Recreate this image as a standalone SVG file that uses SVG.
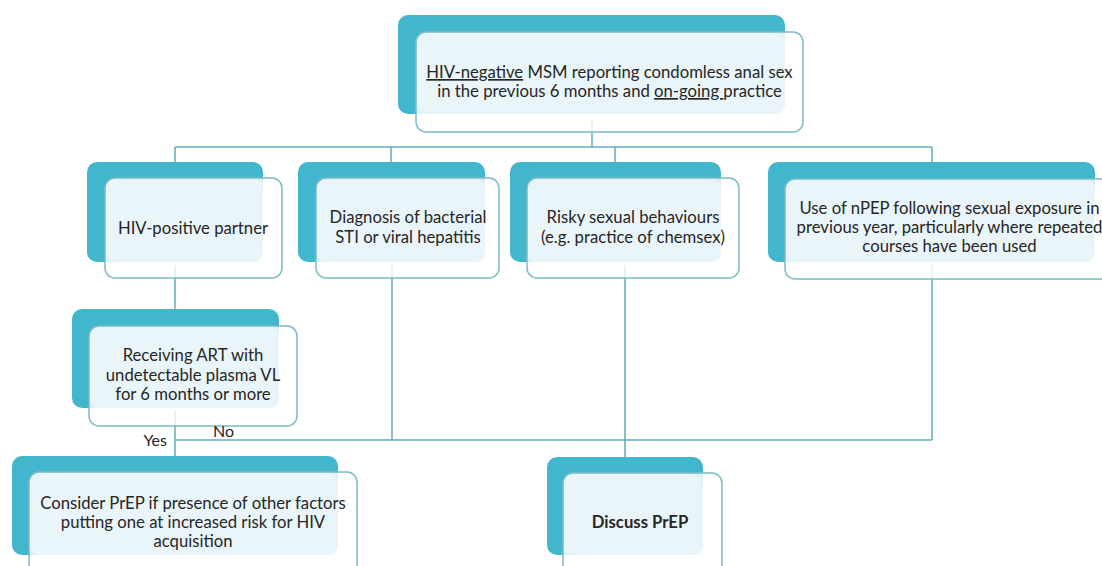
<svg xmlns="http://www.w3.org/2000/svg" width="1102" height="566" viewBox="0 0 1102 566">
<style>
.back{fill:#41b6cd;}
.front{fill:#ffffff;fill-opacity:0.8;stroke:#7cbac6;stroke-width:1.5;}
.light{fill:#eaf5f9;}
.t{font-family:Lato,"Liberation Sans",sans-serif;font-size:16.7px;fill:#262626;text-anchor:middle;}
.b{font-weight:bold;}
.c{stroke:#63adb9;stroke-width:1.5;fill:none;}
.lbl{font-family:Lato,"Liberation Sans",sans-serif;font-size:16px;fill:#262626;}
</style>
<rect width="1102" height="566" fill="#ffffff"/>
<g id="connectors">
<path class="c" d="M592,120 V147 M175,147 H932 M175,147 V170 M391,147 V170 M615,147 V170 M932,147 V170"/>
<path class="c" d="M175,265 V320 M175,410 V462 M175,440 H932 M392,265 V440 M625,265 V465 M932,265 V440"/>
</g>
<g id="n-top">
<rect class="back" x="398" y="15" width="387" height="99" rx="10"/>
<rect class="front" x="416" y="32" width="387" height="100" rx="10"/>
<rect class="light" x="417" y="33" width="368" height="81" rx="9"/>
<text class="t" x="609.5" y="78"><tspan text-decoration="underline">HIV-negative</tspan> MSM reporting condomless anal sex</text>
<text class="t" x="609.5" y="97">in the previous 6 months and <tspan text-decoration="underline">on-going </tspan>practice</text>
</g>
<g id="n-partner">
<rect class="back" x="87" y="162" width="176" height="100" rx="10"/>
<rect class="front" x="105" y="178" width="177" height="100" rx="10"/>
<rect class="light" x="106" y="179" width="157" height="83" rx="9"/>
<text class="t" x="193" y="234">HIV-positive partner</text>
</g>
<g id="n-sti">
<rect class="back" x="298" y="162" width="187" height="100" rx="10"/>
<rect class="front" x="316" y="178" width="183" height="100" rx="10"/>
<rect class="light" x="317" y="179" width="168" height="83" rx="9"/>
<text class="t" x="408" y="223">Diagnosis of bacterial</text>
<text class="t" x="408" y="243">STI or viral hepatitis</text>
</g>
<g id="n-risky">
<rect class="back" x="510" y="162" width="211" height="100" rx="10"/>
<rect class="front" x="527" y="178" width="212" height="100" rx="10"/>
<rect class="light" x="528" y="179" width="193" height="83" rx="9"/>
<text class="t" x="633" y="223">Risky sexual behaviours</text>
<text class="t" x="633" y="243">(e.g. practice of chemsex)</text>
</g>
<g id="n-npep">
<rect class="back" x="768" y="162" width="327" height="100" rx="10"/>
<rect class="front" x="785" y="179" width="330" height="100" rx="10"/>
<rect class="light" x="786" y="180" width="309" height="82" rx="9"/>
<text class="t" x="949.5" y="214">Use of nPEP following sexual exposure in</text>
<text class="t" x="949.5" y="233">previous year, particularly where repeated</text>
<text class="t" x="949.5" y="252">courses have been used</text>
</g>
<g id="n-art">
<rect class="back" x="72" y="309" width="207" height="99" rx="10"/>
<rect class="front" x="89" y="326" width="208" height="100" rx="10"/>
<rect class="light" x="90" y="327" width="189" height="81" rx="9"/>
<text class="t" x="193" y="361">Receiving ART with</text>
<text class="t" x="193" y="381">undetectable plasma VL</text>
<text class="t" x="193" y="400">for 6 months or more</text>
</g>
<g id="n-consider">
<rect class="back" x="12" y="456" width="326" height="99" rx="10"/>
<rect class="front" x="29" y="472" width="328" height="110" rx="10"/>
<rect class="light" x="30" y="473" width="308" height="82" rx="9"/>
<text class="t" x="193" y="509">Consider PrEP if presence of other factors</text>
<text class="t" x="193" y="528">putting one at increased risk for HIV</text>
<text class="t" x="193" y="547">acquisition</text>
</g>
<g id="n-discuss">
<rect class="back" x="547" y="457" width="156" height="98" rx="10"/>
<rect class="front" x="563" y="473" width="159" height="110" rx="10"/>
<rect class="light" x="564" y="474" width="139" height="81" rx="9"/>
<text class="t b" x="640" y="528">Discuss PrEP</text>
</g>
<g id="labels">
<text class="lbl" x="167" y="446" text-anchor="end">Yes</text>
<text class="lbl" x="213" y="437">No</text>
</g>
</svg>
